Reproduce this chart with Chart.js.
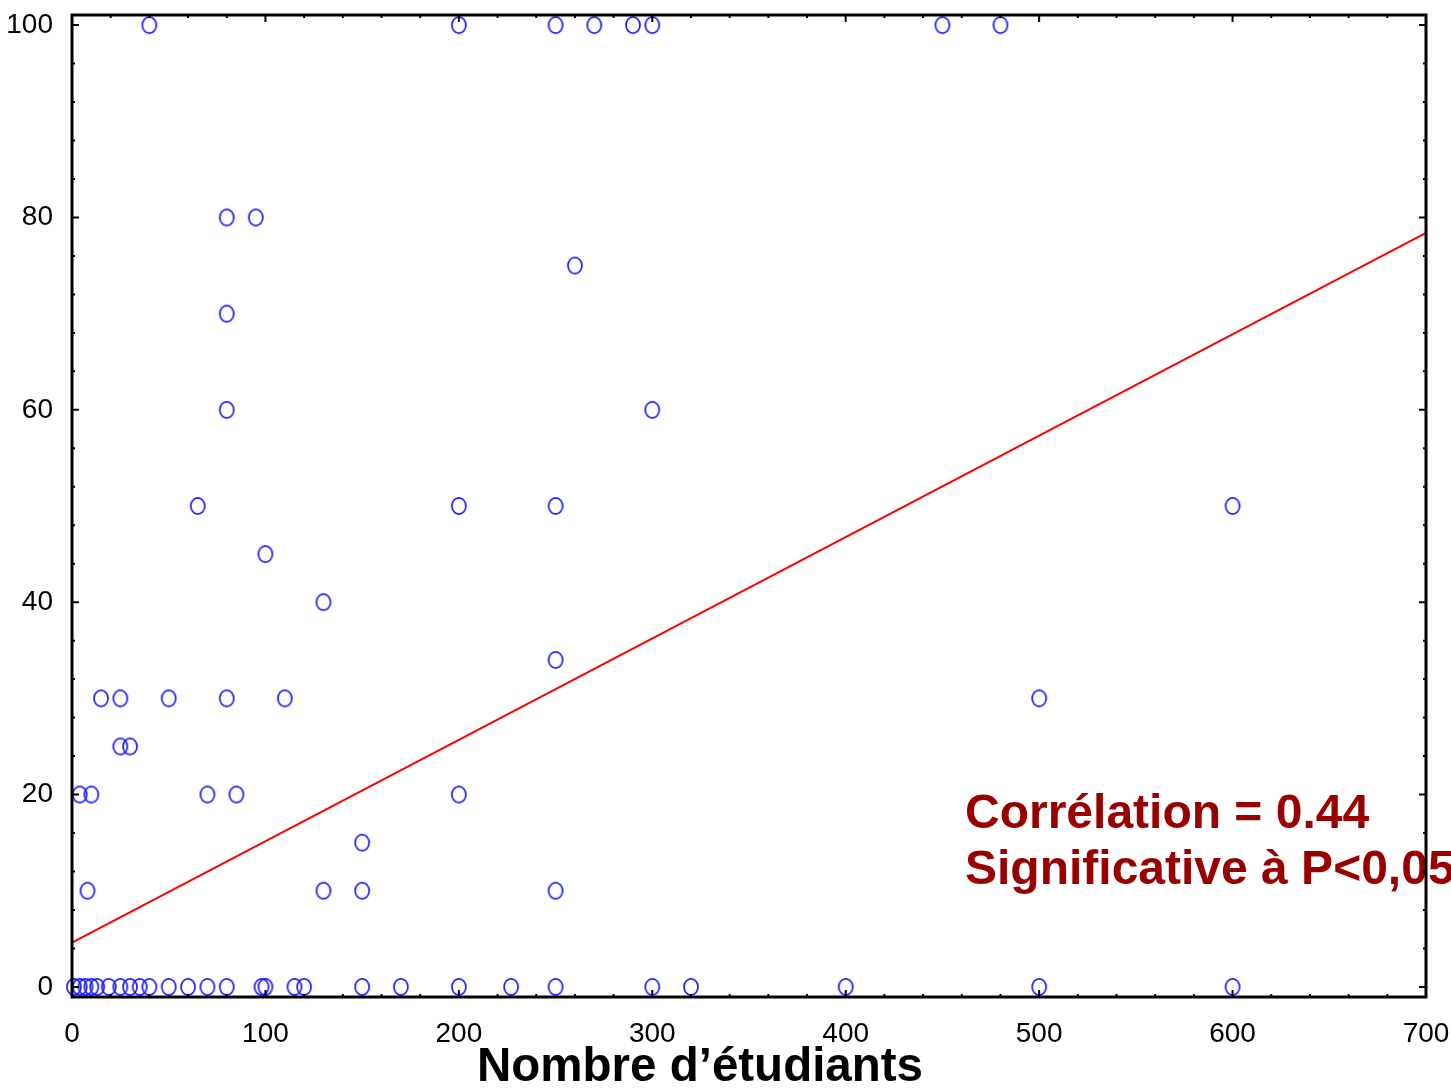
<!DOCTYPE html>
<html>
<head>
<meta charset="utf-8">
<script src="https://cdn.jsdelivr.net/npm/chart.js@4.4.1/dist/chart.umd.min.js"></script>
<style>
  html, body { margin: 0; padding: 0; background: #fff; }
  #wrap { width: 1451px; height: 1089px; }
</style>
</head>
<body>
<div id="wrap"><canvas id="chart"></canvas></div>
<script>
// tick labels
const xTicks = [0, 100, 200, 300, 400, 500, 600, 700];
const yTicks = [0, 20, 40, 60, 80, 100];

// number of students (x) and percentage (y)
const students = [
  40, 200, 250, 270, 290, 300, 450, 480,     // 100
  80, 95,                                    // 80
  260,                                       // 75
  80,                                        // 70
  80, 300,                                   // 60
  65, 200, 250, 600,                         // 50
  100,                                       // 45
  130,                                       // 40
  250,                                       // 34
  15, 25, 50, 80, 110, 500,                  // 30
  25, 30,                                    // 25
  4, 10, 70, 85, 200,                        // 20
  150,                                       // 15
  8, 130, 150, 250,                          // 10
  1, 4, 7, 10, 13, 19, 25, 30, 35, 40, 50, 60, 70, 80, 98, 100,
  115, 120, 150, 170, 200, 227, 250, 300, 320, 400, 500, 600   // 0
];
const percent = [
  100, 100, 100, 100, 100, 100, 100, 100,
  80, 80,
  75,
  70,
  60, 60,
  50, 50, 50, 50,
  45,
  40,
  34,
  30, 30, 30, 30, 30, 30,
  25, 25,
  20, 20, 20, 20, 20,
  15,
  10, 10, 10, 10,
  0, 0, 0, 0, 0, 0, 0, 0, 0, 0, 0, 0, 0, 0, 0, 0,
  0, 0, 0, 0, 0, 0, 0, 0, 0, 0, 0, 0
];

// regression line ends
const fitX = [0, 700];
const fitY = [4.6, 78.4];

const xTitle = 'Nombre d’étudiants';
const note = ['Corrélation = 0.44', 'Significative à P<0,05'];

// open blue ellipse used as marker
function makeMarker() {
  const c = document.createElement('canvas');
  c.width = 18; c.height = 20;
  const g = c.getContext('2d');
  g.strokeStyle = '#1a1aff';
  g.lineWidth = 1.7;
  g.beginPath();
  g.ellipse(9, 10, 7, 8.2, 0, 0, Math.PI * 2);
  g.stroke();
  return c;
}

const labelFont = { family: '"Liberation Sans", Arial', size: 28 };

const framePlugin = {
  id: 'frame',
  afterDatasetsDraw(chart) {
    const ctx = chart.ctx;
    ctx.save();
    ctx.fillStyle = '#990000';
    ctx.font = 'bold 48px "Liberation Sans", Arial';
    ctx.textAlign = 'left';
    ctx.textBaseline = 'alphabetic';
    ctx.fillText(note[0], 965, 828);
    ctx.fillText(note[1], 965, 884);
    ctx.fillStyle = '#000';
    ctx.font = 'bold 47.5px "Liberation Sans", Arial';
    ctx.textAlign = 'center';
    ctx.fillText(xTitle, 700, 1081);
    ctx.restore();
  },
  afterDraw(chart) {
    const { ctx, chartArea: a, scales: { x, y } } = chart;
    ctx.save();
    ctx.strokeStyle = '#000';
    ctx.lineWidth = 3;
    ctx.strokeRect(a.left, a.top, a.right - a.left, a.bottom - a.top);
    ctx.lineWidth = 2;
    ctx.beginPath();
    for (let v = 0; v <= 700; v += 20) {
      const px = x.getPixelForValue(v);
      const len = v % 100 === 0 ? 7 : 3;
      ctx.moveTo(px, a.bottom); ctx.lineTo(px, a.bottom - len);
      ctx.moveTo(px, a.top); ctx.lineTo(px, a.top + len);
    }
    for (let v = 0; v <= 100; v += 4) {
      const py = y.getPixelForValue(v);
      const len = v % 20 === 0 ? 7 : 3;
      ctx.moveTo(a.left, py); ctx.lineTo(a.left + len, py);
      ctx.moveTo(a.right, py); ctx.lineTo(a.right - len, py);
    }
    ctx.stroke();
    ctx.restore();
  }
};

const points = students.map((s, i) => ({ x: s, y: percent[i] }));
const fit = fitX.map((v, i) => ({ x: v, y: fitY[i] }));

new Chart(document.getElementById('chart'), {
  type: 'scatter',
  data: {
    datasets: [
      {
        data: points,
        pointStyle: makeMarker(),
        pointRadius: 8,
        pointHoverRadius: 8,
        clip: false
      },
      {
        type: 'line',
        data: fit,
        borderColor: '#ff0000',
        borderWidth: 2,
        pointRadius: 0,
        fill: false
      }
    ]
  },
  options: {
    responsive: true,
    maintainAspectRatio: false,
    animation: false,
    layout: { padding: { top: 15, right: 25, left: 0, bottom: 0 } },
    plugins: { legend: { display: false }, tooltip: { enabled: false } },
    scales: {
      x: {
        type: 'linear',
        min: 0, max: 700,
        afterBuildTicks: s => { s.ticks = xTicks.map(v => ({ value: v })); },
        afterFit: s => { s.height = 92; s.paddingLeft = 0; s.paddingRight = 0; },
        grid: { display: false, drawTicks: false },
        border: { display: false },
        ticks: { color: '#000', font: labelFont, padding: 20, maxRotation: 0 }
      },
      y: {
        type: 'linear',
        min: -1.05, max: 101.05,
        afterBuildTicks: s => { s.ticks = yTicks.map(v => ({ value: v })); },
        afterFit: s => { s.width = 72; s.paddingTop = 0; s.paddingBottom = 0; },
        grid: { display: false, drawTicks: false },
        border: { display: false },
        ticks: { color: '#000', font: labelFont, padding: 19 }
      }
    }
  },
  plugins: [framePlugin]
});
</script>
</body>
</html>
